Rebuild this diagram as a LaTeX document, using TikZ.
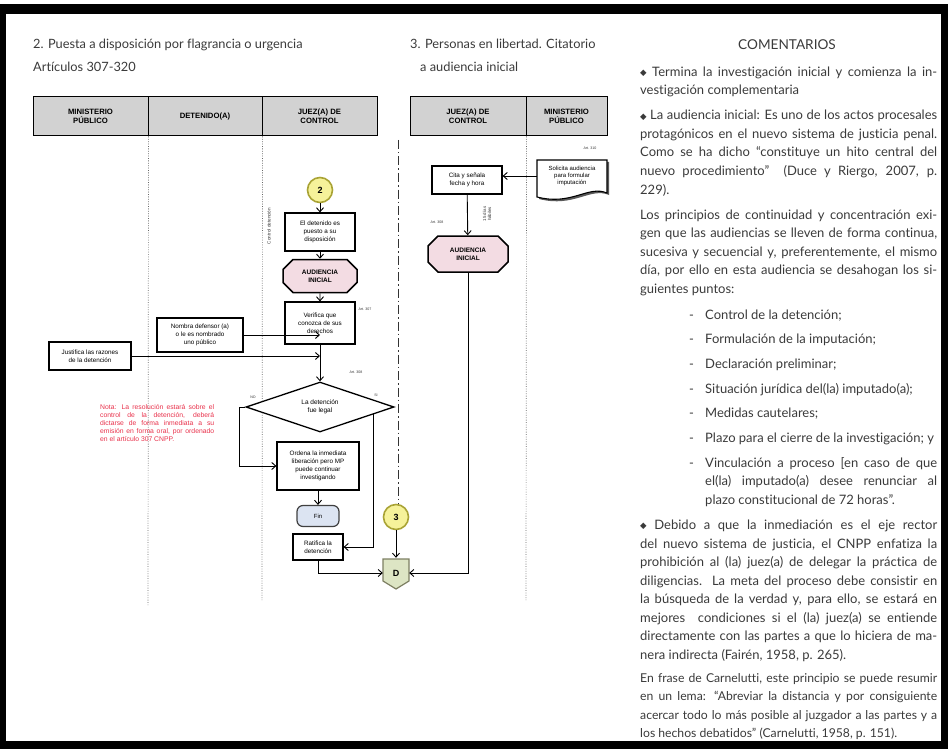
\documentclass[tikz,border=0pt]{standalone}
\usepackage{graphicx}
\usepackage{fontspec}
\setmainfont{Lato}[Ligatures=NoCommon]
\newfontfamily\flowfont{Liberation Sans}
\newfontfamily\symfont{DejaVu Sans}
\usetikzlibrary{arrows.meta,shapes.geometric,shapes.misc,calc}

\definecolor{hdrgray}{HTML}{D2D2D2}
\definecolor{txtgray}{HTML}{3A3A3A}
\definecolor{circfill}{HTML}{F6F29A}
\definecolor{circline}{HTML}{A9A335}
\definecolor{pinkfill}{HTML}{F3DCE3}
\definecolor{finfill}{HTML}{DCE4F2}
\definecolor{dfill}{HTML}{DDE5C4}
\definecolor{dline}{HTML}{7D7F62}
\definecolor{notered}{HTML}{E8304A}

% a line set to an exact width: spaces stretch, or the line is squeezed when too long
\newsavebox\linebox
\newcommand\fitline[2]{\sbox\linebox{#2}%
  \ifdim\wd\linebox>#1\relax\resizebox{#1}{\ht\linebox}{\usebox\linebox}%
  \else\makebox[#1][s]{#2}\fi}
\newcommand\jl[1]{\fitline{297pt}{#1}}
\newcommand\jm[1]{\fitline{232pt}{#1}}
\newcommand\jn[1]{\fitline{114pt}{#1}}
\newcommand\bul{{\symfont\fontsize{8.5}{8.5}\selectfont\raisebox{0.8pt}{◆}}}
\newcommand\bodyA{\fontsize{13}{18.5}\selectfont}
\newcommand\bodyC{\fontsize{12.2}{18.5}\selectfont}

\begin{document}
\begin{tikzpicture}[x=1pt,y=-1pt,
  ttl/.style={font=\fontsize{12.8}{14}\selectfont, text=txtgray, inner sep=0pt, anchor=base west},
  body/.style={text=txtgray, inner sep=0pt, anchor=base west},
  hdr/.style={draw, line width=1pt, fill=hdrgray, minimum height=39pt, align=center, inner sep=1pt,
              font=\flowfont\bfseries\fontsize{7.7}{9.2}\selectfont},
  lane/.style={draw=black!60, line width=0.7pt, dash pattern=on 0.8pt off 1.6pt},
  sepline/.style={draw=black!80, line width=0.9pt, dash pattern=on 9pt off 3pt on 1.5pt off 3pt},
  stepbox/.style={draw, line width=1.2pt, fill=white, align=center, inner sep=1pt,
                  font=\flowfont\fontsize{6.3}{7.8}\selectfont},
  hexa/.style={chamfered rectangle, chamfered rectangle xsep=5pt, chamfered rectangle ysep=5pt,
               draw, line width=1.5pt, fill=pinkfill, align=center, inner sep=1pt,
               font=\flowfont\bfseries\fontsize{6.5}{8}\selectfont},
  circ/.style={circle, draw=circline, line width=1.6pt, fill=circfill, minimum size=25pt, inner sep=0pt,
               font=\flowfont\bfseries\fontsize{9}{10}\selectfont},
  conn/.style={line width=0.9pt, -{Straight Barb[length=4pt,width=7pt]}},
  tinyl/.style={font=\flowfont\fontsize{3.6}{4.2}\selectfont, inner sep=0pt, text=black!80, align=center},
  note/.style={font=\flowfont\fontsize{6.8}{8}\selectfont, text=notered, align=left, inner sep=0pt}
]
\useasboundingbox (0,0) rectangle (948,749);

% page frame
\fill[black] (0,4) rectangle (948,14);
\fill[black] (0,4) rectangle (6,749);
\fill[black] (941,4) rectangle (948,749);
\fill[black] (0,741) rectangle (948,749);

% ---------- titles ----------
\node[ttl] (t1) at (33,49) {2. Puesta a disposición por flagrancia o urgencia};
\node[ttl] (t2) at (33,72) {Artículos 307-320};
\node[ttl] (t3) at (410,49) {3. Personas en libertad. Citatorio};
\node[ttl] (t4) at (420,72) {a audiencia inicial};
\node[font=\fontsize{13.6}{15}\selectfont, text=txtgray, inner sep=0pt, anchor=base] (tc) at (787,50) {COMENTARIOS};

% ---------- swimlane headers ----------
\node[hdr, minimum width=115pt] (hmp) at (90.5,116.5) {MINISTERIO\\PÚBLICO};
\node[hdr, minimum width=114pt] (hdt) at (205,116.5) {DETENIDO(A)};
\node[hdr, minimum width=115pt] (hjz) at (319.5,116.5) {JUEZ(A) DE\\CONTROL};
\node[hdr, minimum width=116pt] (hjz2) at (468,116.5) {JUEZ(A) DE\\CONTROL};
\node[hdr, minimum width=81pt] (hmp2) at (566.5,116.5) {MINISTERIO\\PÚBLICO};

\draw[lane] (hmp.south east) -- (148,605);
\draw[lane] (hdt.south east) -- (262,600);
\draw[lane] (hjz2.south east) -- (526,600);

% ---------- flagrancia / urgencia ----------
\node[circ] (c2) at (320,190) {2};
\node[stepbox, minimum width=70pt, minimum height=38pt] (b1) at (320,232) {El detenido es\\puesto a su\\disposición};
\node[tinyl, rotate=90, font=\flowfont\fontsize{4.6}{5}\selectfont] (rl) at (269,226) {Control detención};
\node[hexa, minimum width=74pt, minimum height=33pt] (a1) at (320,276) {AUDIENCIA\\INICIAL};
\node[stepbox, minimum width=70pt, minimum height=42pt] (b2) at (320,323) {Verifica que\\conozca de sus\\derechos};
\node[tinyl] (art1) at (365,309) {Art. 307};
\node[stepbox, minimum width=86pt, minimum height=34pt] (nd) at (200,335) {Nombra defensor (a)\\o le es nombrado\\uno público};
\node[stepbox, minimum width=82pt, minimum height=28pt] (js) at (90,356) {Justifica las razones\\de la detención};
\node[tinyl] (art2) at (356,372) {Art. 308};
\node[diamond, draw, line width=1.3pt, fill=white, minimum width=148pt, minimum height=50pt, aspect=2.9,
      inner sep=0pt, align=center, font=\flowfont\fontsize{6.5}{8}\selectfont] (dl) at (320,407) {La detención\\fue legal};
\node[tinyl] (no) at (253,397) {NO};
\node[tinyl] (si) at (376,395) {SI};
\node[note, anchor=north west] (nt) at (100,404) {%
  \jn{Nota: La resolución estará sobre el}\\
  \jn{control de la detención, deberá}\\
  \jn{dictarse de forma inmediata a su}\\
  \jn{emisión en forma oral, por ordenado}\\
  en el artículo 307 CNPP.};
\node[stepbox, minimum width=82pt, minimum height=48pt] (b3) at (318,466) {Ordena la inmediata\\liberación pero MP\\puede continuar\\investigando};
\node[draw=black!75, line width=1.2pt, fill=finfill, rounded corners=6pt, minimum width=42pt, minimum height=21pt,
      font=\flowfont\fontsize{6}{7}\selectfont] (fin) at (318,516) {Fin};
\node[stepbox, minimum width=50pt, minimum height=26pt] (rt) at (318,547) {Ratifica la\\detención};
\node[circ] (c3) at (396,517) {3};

% off-page connector D
\filldraw[fill=dfill, draw=dline, line width=1.2pt] (383,559) -- (409,559) -- (409,581) -- (396,589) -- (383,581) -- cycle;
\node[minimum width=26pt, minimum height=30pt, inner sep=0pt, font=\flowfont\bfseries\fontsize{9}{10}\selectfont] (dd) at (396,573) {D};

\draw[conn] (c2) -- (b1);
\draw[conn] (b1) -- (a1);
\draw[conn] (a1) -- (b2);
\draw[conn] (b2) -- (dl);
\draw[conn] (nd.east) -- (nd.east -| b2.south);
\draw[conn] (js.east) -- (js.east -| b2.south);
\draw[conn] (dl.west) -- ++(-6,0) |- (b3.west);
\coordinate (sistart) at ($(dl.east)!0.28!(dl.south)$);
\draw[conn] (sistart) |- (rt.east);
\draw[conn] (b3) -- (fin);
\draw[conn] (rt.south) |- (dd.west);
\draw[sepline] (398,140) -- (398,504);
\draw[conn] (c3) -- (dd.north);

% ---------- personas en libertad ----------
\fill[black!65] (539,162) -- (609,162) -- (609,195) .. controls (590,187) and (574,208) .. (539,199) -- cycle;
\filldraw[fill=white, draw=black, line width=1.1pt] (537,160) -- (607,160) -- (607,193) .. controls (588,185) and (572,206) .. (537,197) -- cycle;
\node[minimum width=70pt, minimum height=30pt, inner sep=1pt, align=center, font=\flowfont\fontsize{6}{7.4}\selectfont] (doc) at (572,176) {Solicita audiencia\\para formular\\imputación};
\node[tinyl] (art3) at (590,148) {Art. 310};
\node[stepbox, minimum width=70pt, minimum height=28pt] (ct) at (467,180) {Cita y señala\\fecha y hora};
\node[tinyl, rotate=90, font=\flowfont\fontsize{4.4}{5}\selectfont] (dh) at (487,214) {15 días\\hábiles};
\node[tinyl] (art4) at (437,222) {Art. 308};
\node[hexa, minimum width=80pt, minimum height=36pt] (a2) at (468,254) {AUDIENCIA\\INICIAL};

\draw[conn] (doc.west) -- (doc.west -| ct.east);
\draw[conn] (ct) -- (a2);
\draw[conn] (a2.south) |- (dd.east);

% ---------- comentarios ----------
\foreach \xx/\yy/\ff/\lx [count=\i] in {
 640/76.5/A/{\jl{\bul\ Termina la investigación inicial y comienza la in-}},
 640/95/A/{vestigación complementaria},
 640/120/A/{\jl{\bul\ La audiencia inicial: Es uno de los actos procesales}},
 640/138.5/A/{\jl{protagónicos en el nuevo sistema de justicia penal.}},
 640/157/A/{\jl{Como se ha dicho “constituye un hito central del}},
 640/175.5/A/{\jl{nuevo procedimiento” \ (Duce y Riergo, 2007, p.}},
 640/194/A/{229).},
 640/219/A/{\jl{Los principios de continuidad y concentración exi-}},
 640/237.5/A/{\jl{gen que las audiencias se lleven de forma continua,}},
 640/256/A/{\jl{sucesiva y secuencial y, preferentemente, el mismo}},
 640/274.5/A/{\jl{día, por ello en esta audiencia se desahogan los si-}},
 640/293/A/{guientes puntos:},
 705/319/A/{Control de la detención;},
 705/343.5/A/{Formulación de la imputación;},
 705/368/A/{Declaración preliminar;},
 705/393/A/{Situación jurídica del(la) imputado(a);},
 705/417.5/A/{Medidas cautelares;},
 705/442/A/{Plazo para el cierre de la investigación; y},
 705/467/A/{\jm{Vinculación a proceso [en caso de que}},
 705/485.5/A/{\jm{el(la) imputado(a) desee renunciar al}},
 705/504/A/{plazo constitucional de 72 horas”.},
 640/529.5/A/{\jl{\bul\ Debido a que la inmediación es el eje rector}},
 640/548/A/{\jl{del nuevo sistema de justicia, el CNPP enfatiza la}},
 640/566.5/A/{\jl{prohibición al (la) juez(a) de delegar la práctica de}},
 640/585/A/{\jl{diligencias. La meta del proceso debe consistir en}},
 640/603.5/A/{\jl{la búsqueda de la verdad y, para ello, se estará en}},
 640/622/A/{\jl{mejores \ condiciones si el (la) juez(a) se entiende}},
 640/640.5/A/{\jl{directamente con las partes a que lo hiciera de ma-}},
 640/659/A/{nera indirecta (Fairén, 1958, p. 265).},
 640/682/C/{\jl{En frase de Carnelutti, este principio se puede resumir}},
 640/700.5/C/{\jl{en un lema: “Abreviar la distancia y por consiguiente}},
 640/719/C/{\jl{acercar todo lo más posible al juzgador a las partes y a}},
 640/737.5/C/{los hechos debatidos” (Carnelutti, 1958, p. 151).}
}{\node[body, font=\csname body\ff\endcsname] (r\i) at (\xx,\yy) {\lx};}

\foreach \yy [count=\i] in {319,343.5,368,393,417.5,442,467}
  {\node[body, font=\bodyA] (d\i) at (689,\yy) {-};}

\end{tikzpicture}
\end{document}
